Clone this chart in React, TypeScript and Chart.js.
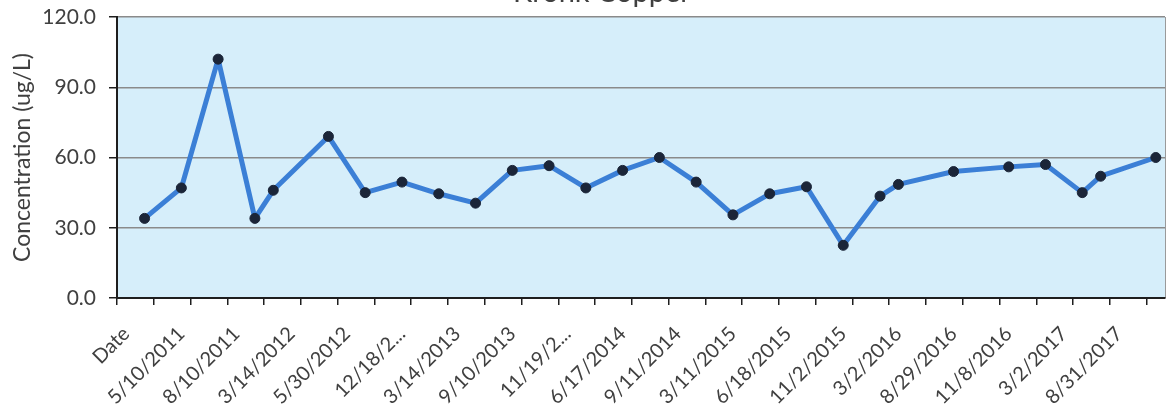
import { useEffect, useRef } from 'react';
import { Chart, registerables } from 'chart.js';

Chart.register(...registerables);

const chartTitle = 'Kronk Copper';
const yAxisTitle = 'Concentration (ug/L)';

// Sample dates shown on the axis: one label for every third row of the sheet
const dateTicks = [
  'Date', '5/10/2011', '8/10/2011', '3/14/2012', '5/30/2012', '12/18/2...',
  '3/14/2013', '9/10/2013', '11/19/2...', '6/17/2014', '9/11/2014', '3/11/2015',
  '6/18/2015', '11/2/2015', '3/2/2016', '8/29/2016', '11/8/2016', '3/2/2017',
  '8/31/2017',
];
const rowsPerLabel = 3;

// Copper concentration (ug/L) per sheet row; null where the row has no result
const copperValues: (number | null)[] = [
  null, 34, null, 47, null, 102, null, 34, 46, null,
  null, 69, null, 45, null, 49.5, null, 44.5, null, 40.5,
  null, 54.5, null, 56.5, null, 47, null, 54.5, null, 60,
  null, 49.5, null, 35.5, null, 44.5, null, 47.5, null, 22.5,
  null, 43.5, 48.5, null, null, 54, null, null, 56, null,
  57, null, 45, 52, null, null, 60,
];

const yTicks = [0, 30, 60, 90, 120];

const rowLabels = copperValues.map((_, i) =>
  i % rowsPerLabel === 0 ? dateTicks[i / rowsPerLabel] ?? '' : ''
);

const FONT = 'Lato, "Open Sans", sans-serif';
const TEXT = '#404040';

const plotFrame = {
  id: 'plotFrame',
  beforeDraw(chart: any) {
    const { ctx, chartArea: a } = chart;
    ctx.save();
    ctx.fillStyle = '#d6eefa';
    ctx.fillRect(a.left, a.top, a.right - a.left, a.bottom - a.top);
    ctx.strokeStyle = '#9a9a9a';
    ctx.lineWidth = 1;
    ctx.beginPath();
    ctx.moveTo(a.right + 0.5, a.top);
    ctx.lineTo(a.right + 0.5, a.bottom);
    ctx.stroke();
    ctx.restore();
  },
  afterDraw(chart: any) {
    const { ctx } = chart;
    ctx.save();
    ctx.font = `29px ${FONT}`;
    ctx.fillStyle = TEXT;
    ctx.textAlign = 'center';
    ctx.textBaseline = 'alphabetic';
    ctx.fillText(chartTitle, 602, 2);
    ctx.restore();
  },
};

export default function App() {
  const canvasRef = useRef<HTMLCanvasElement | null>(null);

  useEffect(() => {
    if (!canvasRef.current) return;
    const chart = new Chart(canvasRef.current, {
      type: 'line',
      data: {
        labels: rowLabels,
        datasets: [
          {
            data: copperValues,
            borderColor: '#3b7fd6',
            borderWidth: 5,
            borderJoinStyle: 'round',
            pointRadius: 5,
            pointBackgroundColor: '#1b2538',
            pointBorderColor: '#1b2538',
            pointBorderWidth: 1,
            spanGaps: true,
            tension: 0,
          },
        ],
      },
      options: {
        animation: false,
        responsive: true,
        maintainAspectRatio: false,
        layout: { padding: { top: 17, right: 8, bottom: 0, left: 0 } },
        plugins: {
          legend: { display: false },
          title: { display: false },
          tooltip: { enabled: false },
        },
        scales: {
          x: {
            offset: true,
            afterFit: (scale: any) => {
              scale.height = 115;
              scale.paddingLeft = 0;
              scale.paddingRight = 0;
            },
            border: { display: true, color: '#1e1e1e', width: 2 },
            grid: {
              offset: true,
              drawOnChartArea: false,
              drawTicks: true,
              tickLength: 7,
              lineWidth: 1.5,
              tickColor: (ctx: any) =>
                ctx.index !== undefined && ctx.index % 2 === 0 ? '#1e1e1e' : 'rgba(0,0,0,0)',
            },
            ticks: {
              autoSkip: false,
              minRotation: 45,
              maxRotation: 45,
              padding: 17,
              color: TEXT,
              font: { family: FONT, size: 20 },
              callback: (_v: any, i: number) => rowLabels[i],
            },
          },
          y: {
            min: 0,
            max: 120,
            afterFit: (scale: any) => {
              scale.width = 117;
            },
            afterBuildTicks: (scale: any) => {
              scale.ticks = yTicks.map((v) => ({ value: v }));
            },
            border: { display: true, color: '#1e1e1e', width: 2 },
            grid: {
              color: '#8a8a8a',
              lineWidth: 1.5,
              tickColor: '#1e1e1e',
              tickLength: 8,
            },
            ticks: {
              padding: 13,
              color: TEXT,
              font: { family: FONT, size: 21, lineHeight: 0.3 },
              callback: (v: any) => Number(v).toFixed(1),
            },
            title: {
              display: true,
              text: yAxisTitle,
              color: TEXT,
              font: { family: FONT, size: 23 },
              padding: { top: 9, bottom: 0 },
            },
          },
        },
      },
      plugins: [plotFrame],
    });
    return () => chart.destroy();
  }, []);

  return (
    <div style={{ position: 'absolute', left: 0, top: 0, width: '1173px', height: '413px' }}>
      <canvas ref={canvasRef} />
    </div>
  );
}
